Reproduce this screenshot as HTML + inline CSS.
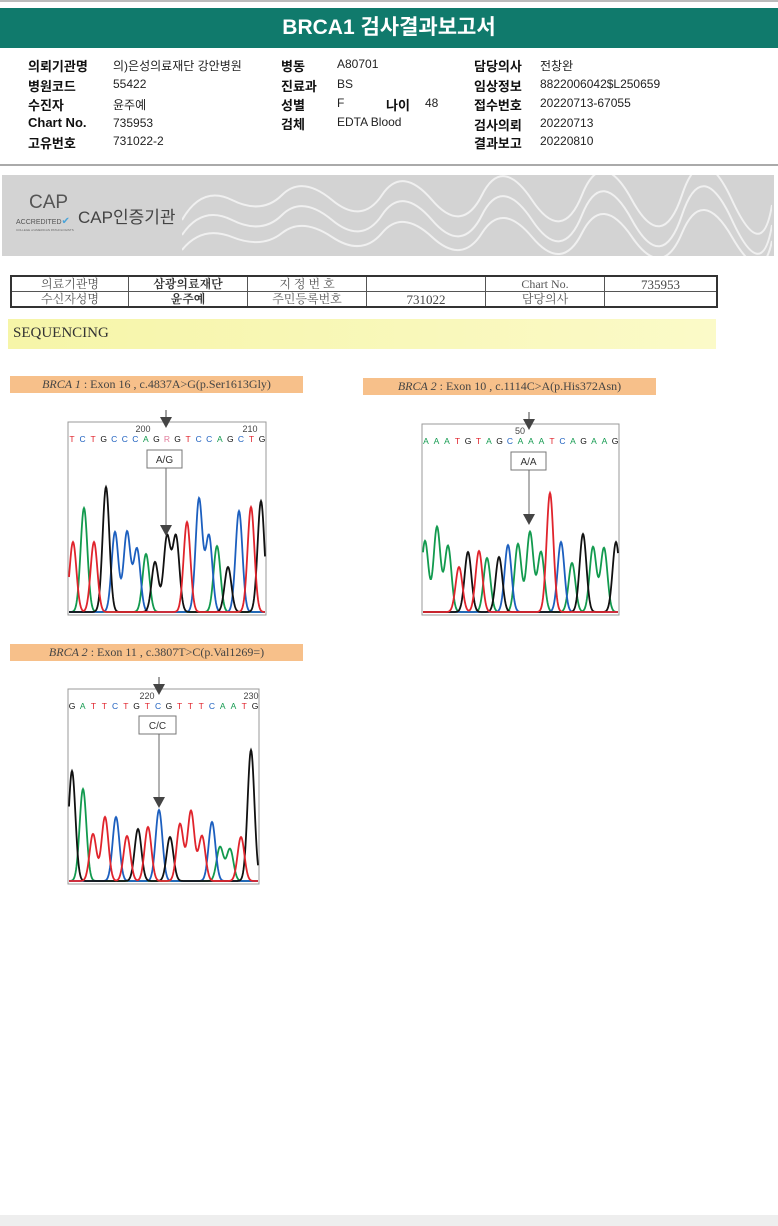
<!DOCTYPE html>
<html><head><meta charset="utf-8">
<style>
body{margin:0;width:778px;height:1226px;background:#fff;font-family:"Liberation Sans","Noto Sans CJK KR",sans-serif;position:relative;overflow:hidden}
.a{position:absolute;white-space:nowrap}
.lb{font-weight:bold;font-size:13px;color:#111}
.v{font-size:12px;color:#222}
.ser{font-family:"Liberation Serif","Noto Serif CJK SC",serif}
table td{padding:0;line-height:13px;height:14px}
</style></head><body>
<div class="a" style="left:0;top:0;width:778px;height:2px;background:#bbb"></div>
<div class="a" style="left:0;top:8px;width:778px;height:40px;background:#107a6c;color:#fff;font-size:21px;font-weight:bold;text-align:center;line-height:40px">BRCA1 검사결과보고서</div>
<div>
<div class="a lb" style="left:28px;top:56px">의뢰기관명</div><div class="a v" style="left:113px;top:57px">의)은성의료재단 강안병원</div>
<div class="a lb" style="left:28px;top:76px">병원코드</div><div class="a v" style="left:113px;top:77px">55422</div>
<div class="a lb" style="left:28px;top:95px">수진자</div><div class="a v" style="left:113px;top:96px">윤주예</div>
<div class="a lb" style="left:28px;top:115px">Chart No.</div><div class="a v" style="left:113px;top:116px">735953</div>
<div class="a lb" style="left:28px;top:133px">고유번호</div><div class="a v" style="left:113px;top:134px">731022-2</div>
<div class="a lb" style="left:281px;top:56px">병동</div><div class="a v" style="left:337px;top:57px">A80701</div>
<div class="a lb" style="left:281px;top:76px">진료과</div><div class="a v" style="left:337px;top:77px">BS</div>
<div class="a lb" style="left:281px;top:95px">성별</div><div class="a v" style="left:337px;top:96px">F</div>
<div class="a lb" style="left:386px;top:95px">나이</div><div class="a v" style="left:425px;top:96px">48</div>
<div class="a lb" style="left:281px;top:114px">검체</div><div class="a v" style="left:337px;top:115px">EDTA Blood</div>
<div class="a lb" style="left:474px;top:56px">담당의사</div><div class="a v" style="left:540px;top:57px">전창완</div>
<div class="a lb" style="left:474px;top:76px">임상정보</div><div class="a v" style="left:540px;top:77px">8822006042$L250659</div>
<div class="a lb" style="left:474px;top:95px">접수번호</div><div class="a v" style="left:540px;top:96px">20220713-67055</div>
<div class="a lb" style="left:474px;top:115px">검사의뢰</div><div class="a v" style="left:540px;top:116px">20220713</div>
<div class="a lb" style="left:474px;top:133px">결과보고</div><div class="a v" style="left:540px;top:134px">20220810</div>
</div>
<div class="a" style="left:0;top:164px;width:778px;height:2px;background:#aaa"></div>
<div class="a" style="left:2px;top:175px;width:772px;height:81px;background:#d3d3d3">
<svg class="a" style="left:180px;top:0" width="590" height="81"><g fill="none" stroke="#f0f0f0" stroke-width="2">
<path d="M0 45 Q20 10 50 25 T100 20 T150 25 T200 20 T250 25 T300 20 T350 25 T400 20 T450 25 T500 20 T550 25 T590 30"/>
<path d="M0 60 Q20 30 50 45 T100 40 T150 45 T200 40 T250 45 T300 40 T350 45 T400 40 T450 45 T500 40 T550 45 T590 50"/>
<path d="M0 75 Q20 50 50 62 T100 58 T150 62 T200 58 T250 62 T300 58 T350 62 T400 58 T450 62 T500 58 T550 62 T590 66"/></g></svg>
<div class="a" style="left:27px;top:17px;font-size:19px;color:#555">CAP</div>
<div class="a" style="left:14px;top:41px;font-size:7px;color:#555">ACCREDITED<span style="color:#4aa3d8;font-size:10px">✔</span></div>
<div class="a" style="left:14px;top:53px;font-size:3px;color:#666">COLLEGE of AMERICAN PATHOLOGISTS</div>
<div class="a" style="left:76px;top:28px;font-size:17px;color:#444">CAP인증기관</div>
</div>
<table class="a ser" style="left:10px;top:275px;width:708px;border-collapse:collapse;font-size:12px;color:#555;border:2px solid #333;text-align:center">
<tr><td style="width:116px;border-right:1px solid #555;border-bottom:1px solid #555">의료기관명</td><td style="width:118px;border-right:1px solid #555;border-bottom:1px solid #555;font-weight:bold;color:#333">삼광의료재단</td><td style="width:118px;border-right:1px solid #555;border-bottom:1px solid #555">지 정 번 호</td><td style="width:118px;border-right:1px solid #555;border-bottom:1px solid #555"></td><td style="width:118px;border-right:1px solid #555">Chart No.</td><td style="font-size:13px;color:#444">735953</td></tr>
<tr><td style="border-right:1px solid #555">수신자성명</td><td style="border-right:1px solid #555;font-weight:bold;color:#333">윤주예</td><td style="border-right:1px solid #555">주민등록번호</td><td style="border-right:1px solid #555;font-size:13px;color:#444">731022</td><td style="border-right:1px solid #555;border-top:1px solid #555">담당의사</td><td style="border-top:1px solid #555"></td></tr>
</table>
<div class="a ser" style="left:8px;top:319px;width:708px;height:30px;background:linear-gradient(90deg,#f6f5a8,#fbfac8);font-size:15px;line-height:28px;padding-left:5px;box-sizing:border-box;color:#333">SEQUENCING</div>
<div class="a ser" style="left:10px;top:376px;width:293px;height:17px;background:#f7c08a;font-size:12px;line-height:17px;text-align:center;color:#444"><i>BRCA 1</i> : Exon 16 , c.4837A&gt;G(p.Ser1613Gly)</div>
<div class="a ser" style="left:363px;top:378px;width:293px;height:17px;background:#f7c08a;font-size:12px;line-height:17px;text-align:center;color:#444"><i>BRCA 2</i> : Exon 10 , c.1114C&gt;A(p.His372Asn)</div>
<div class="a ser" style="left:10px;top:644px;width:293px;height:17px;background:#f7c08a;font-size:12px;line-height:17px;text-align:center;color:#444"><i>BRCA 2</i> : Exon 11 , c.3807T&gt;C(p.Val1269=)</div>
<div class="a" style="left:0;top:1215px;width:778px;height:11px;background:#eee"></div>
<svg class="a" style="left:0;top:0" width="778" height="1226" id="charts"></svg>
<script>
const seq1="TCTGCCCAGRGTCCAGCTG";
const seq2="AAATGTAGCAAATCAGAAG";
const seq3="GATTCTGTCGTTTCAATG";
const bases1=["T","A","T","G","C","C","C","A","G","G","G","T","C","C","A","G","C","T","G"];
const heights1=[70,104,70,125,80,80,63,58,50,75,75,90,113,76,66,45,101,105,111];
const pos1=[73,84,94,106,115,127,137,146,155,167,176,187,199,209,217,228,239,251,261];
const bases2=["A","A","A","T","G","T","A","G","C","A","A","A","T","C","A","G","A","A","G"];
const heights2=[71,85,66,45,60,61,54,55,67,68,80,60,119,70,49,78,65,64,70];
const pos2=[425,437,448,459,468,479,487,499,508,518,530,541,550,561,572,583,593,604,616];
const bases3=["G","A","T","T","C","T","G","T","C","G","T","T","T","C","A","A","T","G"];
const heights3=[110,92,47,64,64,45,52,54,71,44,57,70,45,59,34,32,44,131];
const pos3=[72,83,93,105,116,127,138,148,159,170,180,191,202,212,220,230,241,251];
const col={A:"#129a4e",C:"#1c5fbf",G:"#111",T:"#e0242c",R:"#e07a9a"};
const svg=document.getElementById('charts');const NS="http://www.w3.org/2000/svg";
function mk(t,a){const e=document.createElementNS(NS,t);for(const k in a)e.setAttribute(k,a[k]);svg.appendChild(e);return e;}
function chart(x0,x1,y0,base,seq,bases,hs,pos,tick,box,arrowX,headY,labelText,id){
  const r=mk('rect',{x:x0,y:y0,width:x1-x0,height:base+2-y0,fill:'none',stroke:'#999','stroke-width':1});
  
  
  const step=(x1-x0-8)/(seq.length-1);
  for(let i=0;i<seq.length;i++){const t=mk('text',{x:x0+4+i*step,y:y0+20,'font-size':8.5,'text-anchor':'middle',fill:col[seq[i]],'font-family':'Liberation Sans'});t.textContent=seq[i];
    
    }
  tick.forEach(tk=>{const t=mk('text',{x:tk[0],y:y0+10,'font-size':9,'text-anchor':'middle',fill:'#444'});t.textContent=tk[1];
    
    });
  for(const b of ["A","C","G","T"]){
    let d="";
    for(let x=x0+1;x<=x1-1;x+=0.5){let y=1;
      for(let i=0;i<pos.length;i++){if(bases[i]===b){const dx=x-pos[i];y+=hs[i]*Math.exp(-dx*dx/(2*3.4*3.4));}}
      d+=(x===x0+1?"M":"L")+x+" "+(base-y).toFixed(1);}
    const p=mk('path',{d:d,fill:'none',stroke:col[b],'stroke-width':1.8});
    
    
  }
  mk('line',{x1:arrowX,y1:y0-12,x2:arrowX,y2:y0-4,stroke:'#444','stroke-width':1});
  mk('path',{d:`M${arrowX-6} ${y0-5}L${arrowX+6} ${y0-5}L${arrowX} ${y0+6}Z`,fill:'#444'});
  const bx=mk('rect',{x:box[0],y:box[1],width:box[2],height:18,fill:'#fff',stroke:'#777'});
  
  
  const lt=mk('text',{x:box[0]+box[2]/2,y:box[1]+13,'font-size':10,'text-anchor':'middle',fill:'#333'});lt.textContent=labelText;
  mk('line',{x1:arrowX,y1:box[1]+18,x2:arrowX,y2:headY-10,stroke:'#666','stroke-width':1});
  mk('path',{d:`M${arrowX-6} ${headY-11}L${arrowX+6} ${headY-11}L${arrowX} ${headY}Z`,fill:'#444'});
}
chart(68,266,422,613,seq1,bases1,heights1,pos1,[[143,"200"],[250,"210"]],[147,450,35],166,536,"A/G","chart-brca1-exon16");
chart(422,619,424,613,seq2,bases2,heights2,pos2,[[520,"50"]],[511,452,35],529,525,"A/A","chart-brca2-exon10");
chart(68,259,689,882,seq3,bases3,heights3,pos3,[[147,"220"],[251,"230"]],[139,716,37],159,808,"C/C","chart-brca2-exon11");
</script>
</body></html>
